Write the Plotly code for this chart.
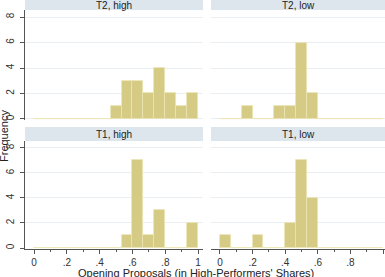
import plotly.graph_objects as go

# ---- data ----
bin_edges = [0, 1/15, 2/15, 3/15, 4/15, 5/15, 6/15, 7/15, 8/15, 9/15, 10/15, 11/15, 12/15, 13/15, 14/15, 1]
t2_high = [0, 0, 0, 0, 0, 0, 0, 1, 3, 3, 2, 4, 2, 1, 2]
t2_low  = [0, 0, 1, 0, 0, 1, 1, 6, 2, 0, 0, 0, 0, 0, 0]
t1_high = [0, 0, 0, 0, 0, 0, 0, 0, 1, 7, 1, 3, 0, 0, 2]
t1_low  = [1, 0, 0, 1, 0, 0, 2, 7, 4, 0, 0, 0, 0, 0, 0]
panel_titles = ["T2, high", "T2, low", "T1, high", "T1, low"]
x_tickvals = [0, 0.2, 0.4, 0.6, 0.8, 1]
x_ticktext = ["0", ".2", ".4", ".6", ".8", "1"]
y_tickvals = [0, 2, 4, 6, 8]

W, H = 385, 277
BAR = "#d5cb84"
EDGE = "#ebe4b4"
STRIP = "#dde6ed"
GRID = "#e9eef2"
AX = "#555555"
FONT = "Liberation Sans, Arial, sans-serif"

centers = [(bin_edges[i] + bin_edges[i + 1]) / 2 for i in range(len(bin_edges) - 1)]
widths = [bin_edges[i + 1] - bin_edges[i] for i in range(len(bin_edges) - 1)]

def px_x(a, b):
    return [a / W, b / W]

def px_y(top, bottom):
    return [(H - bottom) / H, (H - top) / H]

fig = go.Figure()
series = [t2_high, t2_low, t1_high, t1_low]
for i, s in enumerate(series):
    sfx = "" if i == 0 else str(i + 1)
    fig.add_trace(go.Bar(
        x=centers, y=s, width=widths,
        marker=dict(color=BAR, line=dict(color=EDGE, width=0.8)),
        xaxis="x" + sfx, yaxis="y" + sfx, showlegend=False,
    ))

left_dom = px_x(25, 203)
right_dom = px_x(211, 385)
top_dom = px_y(10, 120)
bot_dom = px_y(141, 249)
left_range = [-0.055, 1.03]
right_range = [-0.055, 1.012]
yrange = [-0.08, 8.55]

layout = dict(
    width=W, height=H, margin=dict(l=0, r=0, t=0, b=0, autoexpand=False),
    paper_bgcolor="white", plot_bgcolor="white",
    font=dict(family=FONT, size=10, color="#333333"),
    bargap=0,
)

panels = [
    ("", left_dom, top_dom, left_range, False, True),
    ("2", right_dom, top_dom, right_range, False, False),
    ("3", left_dom, bot_dom, left_range, True, True),
    ("4", right_dom, bot_dom, right_range, True, False),
]
for sfx, xd, yd, xr, show_x, show_y in panels:
    xa = dict(domain=xd, range=xr, anchor="y" + sfx, showgrid=False, zeroline=False,
              tickvals=x_tickvals, ticktext=x_ticktext, showticklabels=show_x,
              ticks="outside" if show_x else "", ticklen=4, tickcolor=AX,
              showline=show_x, linecolor=AX, linewidth=1,
              tickfont=dict(size=10, color="#333333"))
    if show_x:
        xa["minor"] = dict(dtick=0.1, ticks="outside", ticklen=2, tickcolor=AX, showgrid=False)
    ya = dict(domain=yd, range=yrange, anchor="x" + sfx, showgrid=True, gridcolor=GRID,
              gridwidth=1, zeroline=False, tickvals=y_tickvals, showticklabels=show_y,
              ticks="outside" if show_y else "", ticklen=4, tickcolor=AX, tickangle=-90,
              showline=show_y, linecolor=AX, linewidth=1, ticklabelstandoff=2,
              tickfont=dict(size=10, color="#333333"))
    layout["xaxis" + sfx] = xa
    layout["yaxis" + sfx] = ya

fig.update_layout(**layout)

# strips
strips = [
    (25, 203, -4, 10, 5),
    (211, 385, -4, 10, 5),
    (25, 203, 127, 141, 134),
    (211, 385, 127, 141, 134),
]
for (x0, x1, t, b, yc), title in zip(strips, panel_titles):
    fig.add_shape(type="rect", xref="paper", yref="paper",
                  x0=x0 / W, x1=x1 / W, y0=(H - b) / H, y1=(H - t) / H,
                  fillcolor=STRIP, line=dict(width=0), layer="below")
    fig.add_annotation(xref="paper", yref="paper", x=(x0 + x1) / 2 / W,
                       y=(H - yc) / H, text=title, showarrow=False,
                       font=dict(size=10, color="#222222"), xanchor="center", yanchor="middle")

fig.add_annotation(xref="paper", yref="paper", x=196 / W, y=(H - 273) / H,
                   text="Opening Proposals (in High-Performers' Shares)", showarrow=False,
                   font=dict(size=11, color="#222222"), xanchor="center", yanchor="middle")
fig.add_annotation(xref="paper", yref="paper", x=4 / W, y=(H - 136) / H,
                   text="Frequency", textangle=-90, showarrow=False,
                   font=dict(size=11, color="#222222"), xanchor="center", yanchor="middle")

fig.write_html("out.html")
